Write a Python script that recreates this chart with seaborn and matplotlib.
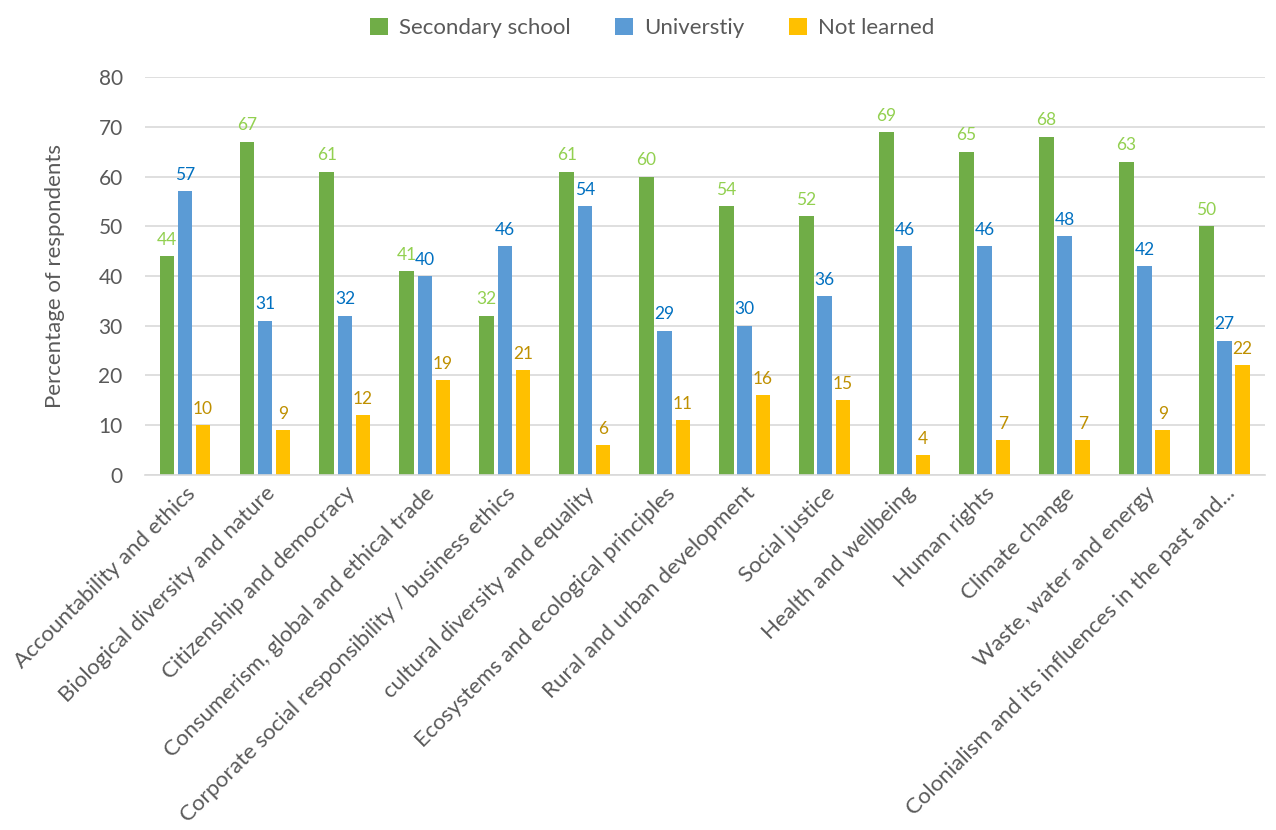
import matplotlib
matplotlib.use("Agg")
import matplotlib.pyplot as plt
import seaborn as sns
import pandas as pd

categories = [
    "Accountability and ethics",
    "Biological diversity and nature",
    "Citizenship and democracy",
    "Consumerism, global and ethical trade",
    "Corporate social responsibility / business ethics",
    "cultural diversity and equality",
    "Ecosystems and ecological principles",
    "Rural and urban development",
    "Social justice",
    "Health and wellbeing",
    "Human rights",
    "Climate change",
    "Waste, water and energy",
    "Colonialism and its influences in the past and...",
]
secondary = [44, 67, 61, 41, 32, 61, 60, 54, 52, 69, 65, 68, 63, 50]
university = [57, 31, 32, 40, 46, 54, 29, 30, 36, 46, 46, 48, 42, 27]
not_learned = [10, 9, 12, 19, 21, 6, 11, 16, 15, 4, 7, 7, 9, 22]
series_names = ["Secondary school", "Universtiy", "Not learned"]

bar_colors = ["#70AD47", "#5B9BD5", "#FFC000"]
label_colors = ["#92D050", "#0070C0", "#BF9000"]

rows = []
for name, vals in zip(series_names, [secondary, university, not_learned]):
    for c, v in zip(categories, vals):
        rows.append({"category": c, "series": name, "value": v})
df = pd.DataFrame(rows)

sns.set_theme(style="white")
plt.rcParams["font.family"] = ["Lato", "DejaVu Sans"]

fig = plt.figure(figsize=(12.76, 8.30), dpi=100)
ax = fig.add_axes([0.1136, 0.428, 0.8774, 0.479])

sns.barplot(data=df, x="category", y="value", hue="series", order=categories,
            hue_order=series_names, palette=bar_colors, saturation=1,
            width=0.68, gap=0.2, linewidth=0,
            ax=ax, legend=True, errorbar=None)

for cont, col in zip(ax.containers, label_colors):
    ax.bar_label(cont, padding=6, color=col, fontsize=12.5)

ax.set_ylim(0, 80)
ax.set_yticks(range(0, 81, 10))
ax.set_xlim(-0.5, len(categories) - 0.5)
ax.yaxis.grid(True, color="#D9D9D9", linewidth=1.2)
ax.set_axisbelow(True)
for s in ["top", "right", "left"]:
    ax.spines[s].set_visible(False)
ax.spines["bottom"].set_color("#D9D9D9")
ax.spines["bottom"].set_linewidth(1.2)
ax.tick_params(axis="both", length=0, colors="#595959", labelsize=15)
ax.tick_params(axis="y", pad=16)
ax.tick_params(axis="x", pad=6)
ax.set_xticks(range(len(categories)))
ax.set_xticklabels(categories, rotation=45, ha="right", rotation_mode="anchor", fontsize=16, color="#595959")
ax.set_xlabel("")
ax.set_ylabel("Percentage of respondents", fontsize=16, color="#595959", labelpad=24)

leg = ax.legend(loc="upper center", bbox_to_anchor=(0.453, 1.2), ncol=3, frameon=False,
                fontsize=16, handlelength=0.8, handleheight=0.8, columnspacing=2.0, handletextpad=0.5)
for t in leg.get_texts():
    t.set_color("#595959")

fig.savefig("out.png", dpi=100)
